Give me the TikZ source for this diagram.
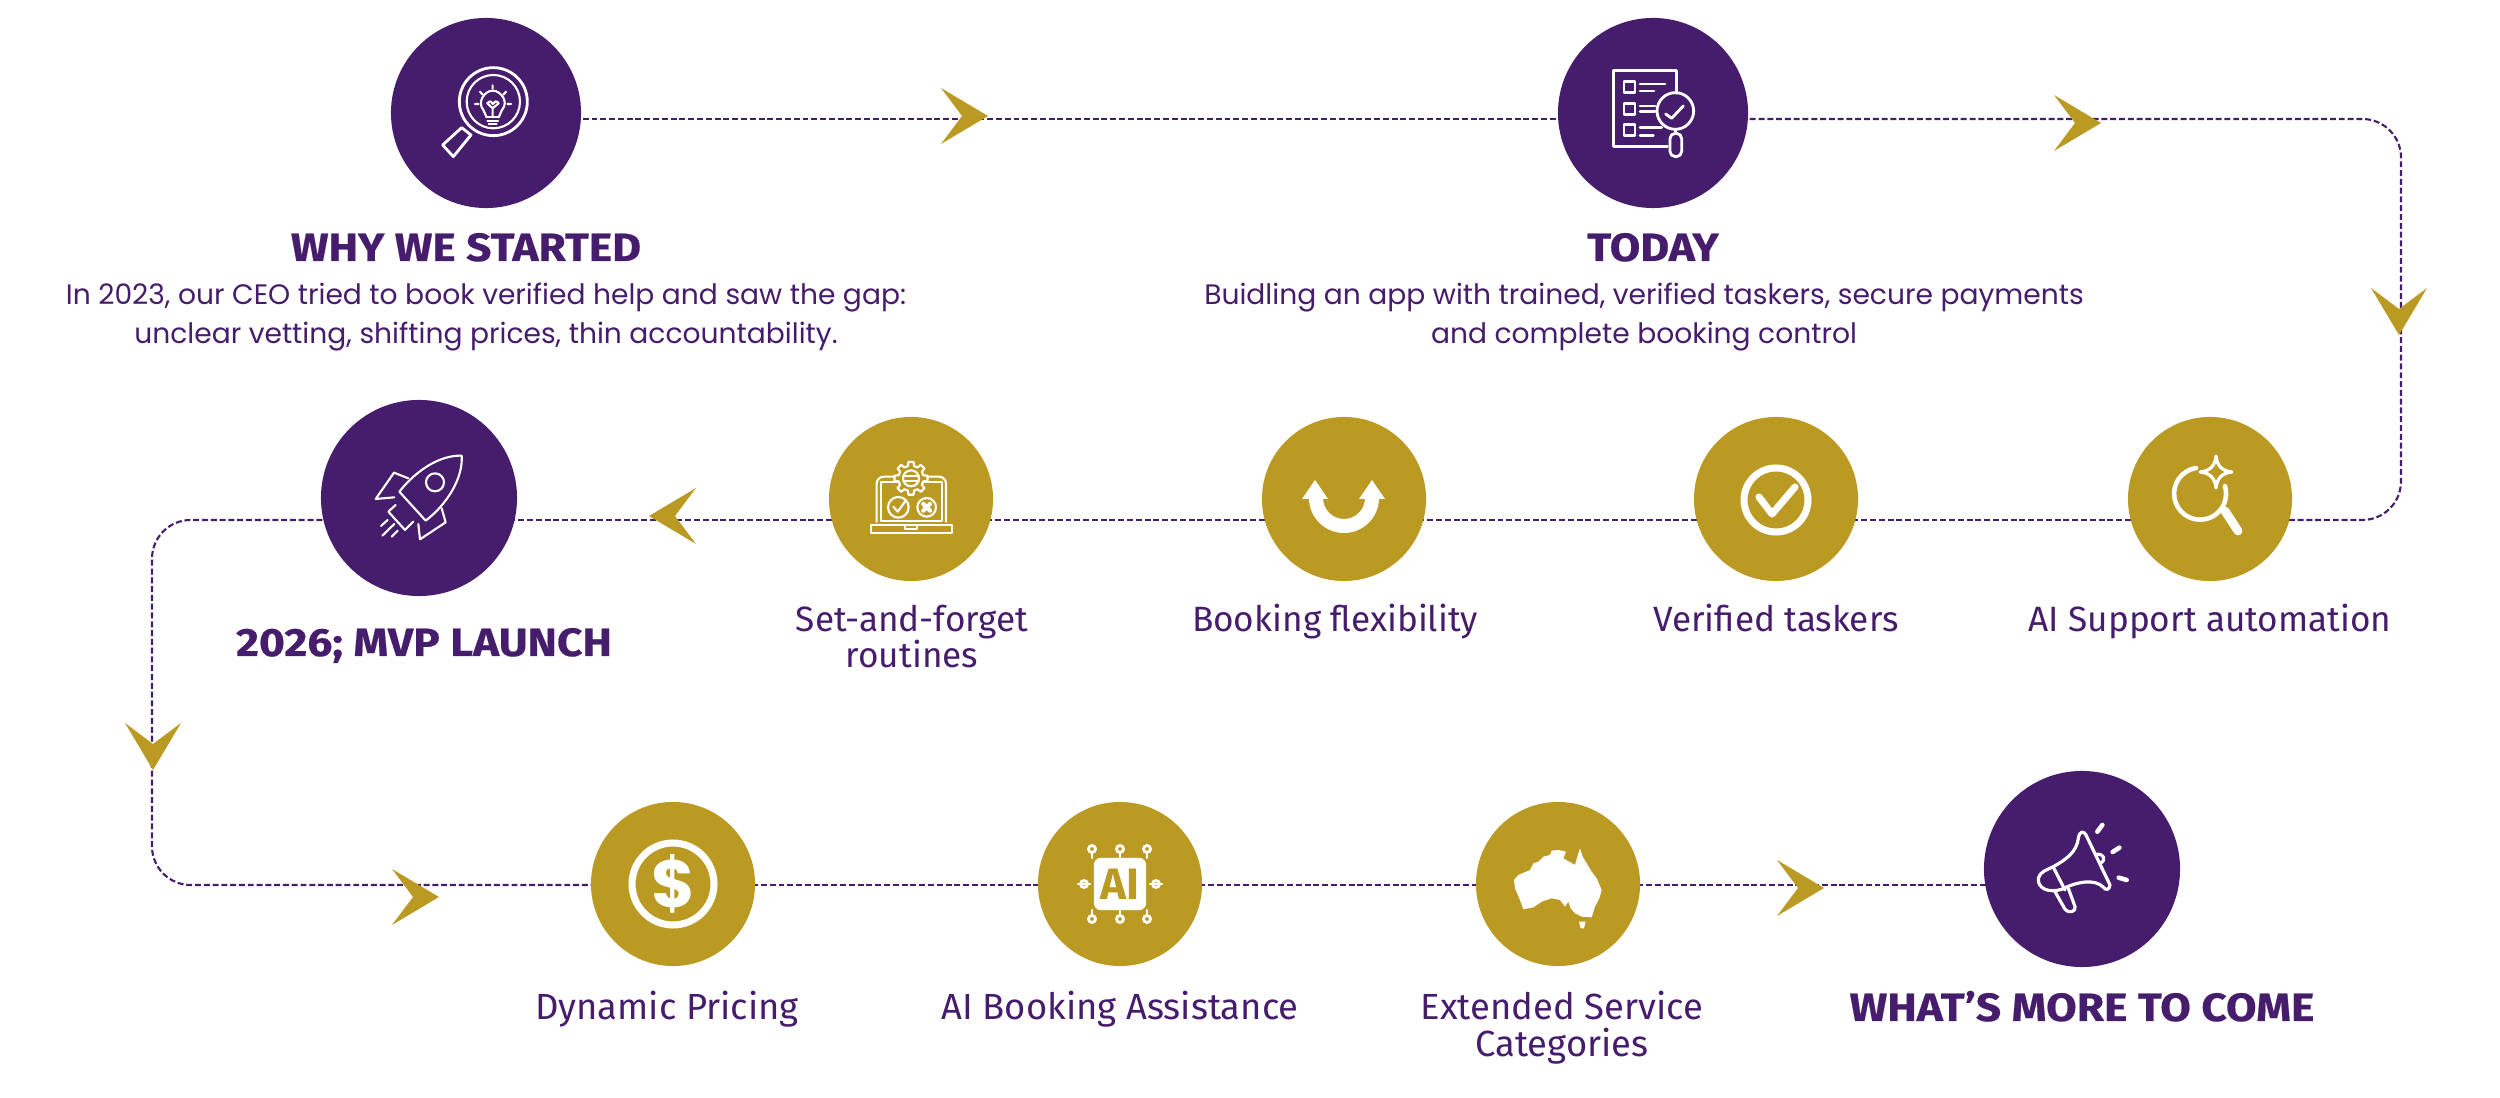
\documentclass[tikz,border=0pt]{standalone}
\usepackage{fontspec}
\usepackage{xcolor}
\usepackage{tikz}
\usetikzlibrary{backgrounds}
\setmainfont{Poppins}
\newfontfamily\labelfont{Fira Sans}
\newfontfamily\headfont[BoldFeatures={FakeStretch=1.125,FakeBold=0.5}]{Fira Sans}
\definecolor{brandviolet}{RGB}{70,28,108}
\definecolor{brandgold}{RGB}{187,154,35}
\tikzset{
  stepviolet/.style={circle,fill=brandviolet,inner sep=0pt,minimum size=1.9cm},
  stepgold/.style={circle,fill=brandgold,inner sep=0pt,minimum size=1.64cm},
  headline/.style={anchor=base,inner sep=0pt,text=brandviolet,font=\headfont\bfseries\fontsize{11.2}{13}\selectfont},
  bodytext/.style={anchor=base,inner sep=0pt,text=brandviolet,align=center,font=\fontsize{8}{11.1}\selectfont},
  steplabel/.style={anchor=base,inner sep=0pt,text=brandviolet,align=center,font=\labelfont\fontsize{10}{10.5}\selectfont},
  lowlabel/.style={steplabel,font=\labelfont\fontsize{10.35}{10.5}\selectfont},
  flowline/.style={brandviolet,line width=0.6pt,dash pattern=on 1.7pt off 0.8pt},
  icon/.style={draw=white,line width=0.6pt,line cap=round,line join=round},
  iconbold/.style={icon,line width=0.8pt}
}
\newcommand{\chevron}[3]{\fill[brandgold,shift={(#1,#2)},rotate=#3] (0,0) -- (-47,-28) -- (-26,0) -- (-47,28) -- cycle;}
\begin{document}
\begin{tikzpicture}[x=0.01cm,y=-0.01cm]
  \useasboundingbox (0,0) rectangle (2500,1098);

  % Circles
  \node[stepviolet] (why) at (486,113) {};
  \node[stepviolet] (today) at (1653,113) {};
  \node[stepviolet,minimum size=1.96cm] (mvp) at (419,498) {};
  \node[stepgold] (routines) at (911,499) {};
  \node[stepgold] (flexibility) at (1344,499) {};
  \node[stepgold] (taskers) at (1776,499) {};
  \node[stepgold] (automation) at (2210,499) {};
  \node[stepgold] (pricing) at (673,884) {};
  \node[stepgold] (assistance) at (1120,884) {};
  \node[stepgold] (categories) at (1558,884) {};
  \node[stepviolet,minimum size=1.96cm] (more) at (2082,869) {};

  % Route
  \coordinate (rowa) at (0,119);
  \coordinate (rowb) at (0,520);
  \coordinate (rowc) at (0,885);
  \coordinate (railleft) at (152,0);
  \coordinate (railright) at (2401,0);
  \begin{pgfonlayer}{background}
    \draw[flowline] (why |- rowa) -- (today |- rowa);
    \draw[flowline,rounded corners=11pt] (today |- rowa) -- (railright |- rowa) -- (railright |- rowb) -- (automation |- rowb);
    \draw[flowline] (automation |- rowb) -- (taskers |- rowb);
    \draw[flowline] (taskers |- rowb) -- (flexibility |- rowb);
    \draw[flowline] (flexibility |- rowb) -- (routines |- rowb);
    \draw[flowline] (routines |- rowb) -- (mvp |- rowb);
    \draw[flowline,rounded corners=11pt] (mvp |- rowb) -- (railleft |- rowb) -- (railleft |- rowc) -- (pricing |- rowc);
    \draw[flowline] (pricing |- rowc) -- (assistance |- rowc);
    \draw[flowline] (assistance |- rowc) -- (categories |- rowc);
    \draw[flowline] (categories |- rowc) -- (more |- rowc);
  \end{pgfonlayer}

  \chevron{988}{116}{0}
  \chevron{2101}{123}{0}
  \chevron{2399}{335}{-90}
  \chevron{649}{516}{180}
  \chevron{153}{770}{-90}
  \chevron{439}{897}{0}
  \chevron{1824}{888}{0}

  % Texts
  \node[headline] (whytitle) at (466,261) {WHY WE STARTED};
  \node[bodytext] (whyone) at (486,305) {In 2023, our CEO tried to book verified help and saw the gap:};
  \node[bodytext] (whytwo) at (486,344) {unclear vetting, shifting prices, thin accountability.};
  \node[headline] (todaytitle) at (1653,261) {TODAY};
  \node[bodytext] (todayone) at (1644,305) {Buidling an app with trained, verified taskers, secure payments};
  \node[bodytext] (todaytwo) at (1644,344) {and complete booking control};
  \node[headline] (mvptitle) at (424,656) {2026; MVP LAUNCH};
  \node[steplabel] (routinesa) at (912,632) {Set-and-forget};
  \node[steplabel] (routinesb) at (912,668) {routines};
  \node[steplabel] (flexlabel) at (1335,632) {Booking flexibility};
  \node[steplabel] (taskerlabel) at (1776,632) {Verified taskers};
  \node[steplabel] (autolabel) at (2210,632) {AI Support automation};
  \node[lowlabel] (pricelabel) at (667,1019) {Dynamic Pricing};
  \node[lowlabel] (assistlabel) at (1120,1019) {AI Booking Assistance};
  \node[lowlabel] (catlabela) at (1562,1019) {Extended Service};
  \node[lowlabel] (catlabelb) at (1562,1056) {Categories};
  \node[headline] (moretitle) at (2082,1021) {WHAT’S MORE TO COME};

  % Lens with bulb
  \begin{scope}[shift={(430,60)},scale=0.3333]
    \draw[iconbold] (190,125) circle (102);
    \draw[icon] (190,125) circle (80);
    \draw[iconbold] (38,255) -- (70,290) -- (123,225) -- (95,203) -- cycle;
    \draw[icon] (170,172) -- (160,150) .. controls (140,125) and (165,92) .. (188,92) .. controls (212,92) and (238,125) .. (216,150) -- (206,172);
    \draw[icon] (170,172) -- (206,172) (172,182) -- (204,182) (176,192) -- (200,192);
    \draw[icon] (188,172) -- (188,145) -- (172,130) .. controls (180,120) and (186,125) .. (188,132) .. controls (192,125) and (200,120) .. (206,130) -- (188,145);
    \draw[icon] (188,76) -- (188,86) (150,95) -- (158,104) (228,95) -- (220,104) (135,132) -- (146,132) (232,132) -- (243,132);
  \end{scope}

  % Checklist
  \begin{scope}[shift={(1500,40)},scale=0.3333]
    \draw[iconbold] (530,160) -- (530,92) -- (340,92) -- (340,320) -- (502,320);
    \foreach \rowy in {125,190,254} {
      \draw[iconbold] (372,\rowy) rectangle (405,\rowy+33);
    }
    \draw[iconbold] (420,132) -- (495,132) (420,153) -- (462,153) (420,198) -- (465,198) (420,215) -- (465,215) (420,262) -- (485,262) (420,287) -- (460,287);
    \draw[iconbold] (526,213) circle (55);
    \draw[iconbold] (497,222) -- (515,235) -- (550,198);
    \draw[iconbold] (526,268) -- (526,280);
    \draw[iconbold,rounded corners=1.5pt] (510,280) rectangle (545,350);
  \end{scope}

  % Rocket
  \begin{scope}[shift={(360,440)},scale=0.3333]
    \draw[icon] (118,155) .. controls (170,90) and (240,45) .. (305,47) .. controls (310,110) and (265,190) .. (197,242) -- cycle;
    \draw[icon] (225,127) circle (27);
    \draw[icon] (145,115) -- (102,98) -- (47,177) -- (103,172);
    \draw[icon] (245,205) -- (257,247) -- (180,298) -- (175,252);
    \draw[icon] (107,195) -- (85,215) -- (135,270) -- (160,245);
    \draw[icon] (63,258) -- (83,240) (67,287) -- (103,252) (95,290) -- (113,272);
  \end{scope}

  % Laptop with gear
  \begin{scope}[shift={(860,450)},scale=0.3333]
    \draw[icon,rounded corners=2pt] (50,215) -- (50,80) -- (258,80) -- (258,215);
    \draw[icon] (62,95) rectangle (245,212);
    \draw[icon] (32,225) rectangle (275,248);
    \draw[icon] (135,225) -- (135,238) -- (170,238) -- (170,225);
    \begin{scope}[shift={(153,85)}]
      \draw[icon,fill=brandgold] (-14:38) \foreach \a in {0,45,...,315} { -- (\a-14:38) -- (\a-9:50) -- (\a+9:50) -- (\a+14:38) } -- cycle;
      \draw[icon] (0,0) circle (24);
      \draw[icon] (-23,-7) -- (23,-7) (-23,7) -- (23,7);
    \end{scope}
    \draw[icon] (115,172) circle (31);
    \draw[icon] (100,170) -- (113,185) -- (137,152);
    \draw[icon] (200,172) circle (28);
    \draw[icon,line width=1.2pt] (190,162) -- (210,182) (210,162) -- (190,182);
  \end{scope}

  % U arrows
  \fill[white] (1309,498) arc[start angle=180,end angle=0,radius=35] -- (1365,498) arc[start angle=0,end angle=180,radius=21] -- cycle;
  \fill[white] (1315,480) -- (1328,499) -- (1302,499) -- cycle;
  \fill[white] (1372,480) -- (1385,499) -- (1359,499) -- cycle;

  % Tick in ring
  \draw[draw=white,line width=2pt] (1776,500) circle (32);
  \draw[draw=white,line width=2pt,line cap=round,line join=round] (1759,497) -- (1772,514) -- (1795,487);

  % Lens with sparkle
  \draw[icon,line width=1.3pt] (2196,468) arc[start angle=-99,end angle=-377,radius=26];
  \draw[icon,line width=2.5pt] (2225,511) -- (2238,531);
  \draw[icon,line width=0.9pt] (2216,456) .. controls (2217,466) and (2222,471) .. (2232,472) .. controls (2222,473) and (2217,478) .. (2216,488) .. controls (2215,478) and (2210,473) .. (2200,472) .. controls (2210,471) and (2215,466) .. (2216,456) -- cycle;

  % Coin
  \draw[draw=white,line width=2pt] (673,884) circle (41);
  \node[text=white,inner sep=0pt,font=\bfseries\fontsize{19}{19}\selectfont] (dollarsign) at (673,884) {\$};

  % Chip
  \foreach \pinx in {1092,1120,1147} {
    \draw[icon] (\pinx,858) -- (\pinx,852) (\pinx,910) -- (\pinx,916);
    \draw[icon,line width=0.8pt] (\pinx,849) circle (3.5) (\pinx,919) circle (3.5);
  }
  \draw[icon] (1078,884) -- (1090,884) (1150,884) -- (1162,884);
  \draw[icon,line width=0.8pt] (1084,884) circle (3.5) (1156,884) circle (3.5);
  \node[fill=white,rounded corners=2pt,minimum size=1.56cm,scale=0.335,inner sep=0pt] (chipbox) at (1120,884) {};
  \node[text=brandgold,inner sep=0pt,font=\labelfont\bfseries\fontsize{12.5}{12.5}\selectfont] (chiptext) at (1120,884) {AI};

  % Australia
  \begin{scope}[shift={(1500,830)},scale=0.3333]
    \fill[white] (42,150) -- (55,135) -- (90,120) -- (100,100) -- (115,95) -- (130,80) -- (150,75) -- (155,62) -- (175,60) -- (198,65) -- (190,85) -- (225,105) -- (232,80) -- (240,55) -- (248,80) -- (260,100) -- (275,125) -- (290,145) -- (305,180) -- (298,205) -- (285,230) -- (275,262) -- (245,260) -- (225,250) -- (212,235) -- (205,215) -- (195,230) -- (180,210) -- (155,205) -- (125,215) -- (100,232) -- (70,238) -- (60,210) -- (45,175) -- cycle;
    \fill[white] (237,275) -- (257,275) -- (252,295) -- (242,295) -- cycle;
  \end{scope}

  % Megaphone
  \begin{scope}[shift={(2020,810)},scale=0.3333]
    \draw[iconbold,line width=0.9pt] (175,85) .. controls (178,62) and (192,62) .. (198,75) -- (270,225) .. controls (268,240) and (258,242) .. (250,232) .. controls (225,205) and (170,215) .. (125,238) .. controls (85,250) and (52,235) .. (55,205) .. controls (58,185) and (85,178) .. (100,170) .. controls (140,148) and (170,125) .. (175,85) -- cycle;
    \draw[icon,line width=0.9pt] (100,172) -- (135,240);
    \draw[icon,line width=0.9pt] (105,245) -- (135,298) .. controls (145,312) and (170,305) .. (165,290) -- (145,235);
    \draw[icon,line width=0.9pt] (230,133) .. controls (250,130) and (262,150) .. (240,160);
    \draw[icon,line width=1.3pt] (232,65) -- (247,45) (278,126) -- (298,113) (296,203) -- (320,210);
  \end{scope}
\end{tikzpicture}
\end{document}
